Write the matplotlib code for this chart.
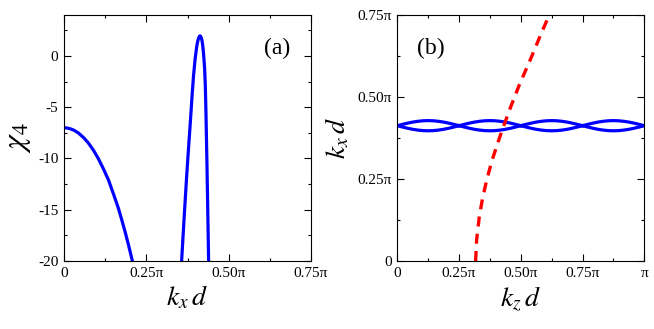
import matplotlib
matplotlib.use("Agg")
import matplotlib.pyplot as plt
from matplotlib.ticker import MultipleLocator

plt.rcParams['font.family'] = ['Liberation Serif', 'DejaVu Serif']
plt.rcParams['mathtext.fontset'] = 'stix'

# panel (a): chi_4 vs kx d (kx d in units of pi)
kx_a1 = [0.0, 0.01, 0.02, 0.03, 0.044, 0.06, 0.074, 0.09, 0.104, 0.12, 0.135,
         0.15, 0.165, 0.175, 0.185, 0.196, 0.2075]
chi_a1 = [-7.0, -7.03, -7.11, -7.24, -7.52, -7.98, -8.49, -9.23, -10.0, -11.04, -12.1,
          -13.45, -14.85, -15.95, -17.1, -18.46, -20.0]
kx_a2 = [0.357, 0.365, 0.372, 0.378, 0.383, 0.388, 0.393, 0.398, 0.403, 0.406,
         0.409, 0.411, 0.413, 0.415, 0.417, 0.419, 0.421, 0.423, 0.425, 0.427,
         0.429, 0.431, 0.434, 0.436, 0.439]
chi_a2 = [-20.0, -15.6, -11.9, -9.0, -6.7, -4.25, -2.0, -0.3, 0.95, 1.45,
          1.78, 1.92, 1.97, 1.9, 1.75, 1.5, 1.05, 0.45, -0.35, -1.3,
          -2.9, -5.6, -10.6, -14.3, -20.0]

# panel (b): kx d vs kz d (units of pi)
lens_kz = [0.0, 0.0208, 0.0417, 0.0625, 0.0833, 0.1042, 0.125,
           0.1458, 0.1667, 0.1875, 0.2083, 0.2292, 0.25]
lens_up = [0.4125, 0.4165, 0.4203, 0.4235, 0.4259, 0.4275, 0.428,
           0.4275, 0.4259, 0.4235, 0.4203, 0.4165, 0.4125]
lens_lo = [0.4125, 0.4085, 0.4047, 0.4015, 0.3991, 0.3975, 0.397,
           0.3975, 0.3991, 0.4015, 0.4047, 0.4085, 0.4125]
lens_starts = [0.0, 0.25, 0.5, 0.75]
kz_red = [0.317, 0.321, 0.332, 0.345, 0.362, 0.382, 0.404, 0.423,
          0.454, 0.494, 0.538, 0.580, 0.615]
kx_red = [0.0, 0.064, 0.135, 0.191, 0.247, 0.303, 0.354, 0.396,
          0.460, 0.537, 0.613, 0.689, 0.75]

fig = plt.figure(figsize=(6.54, 3.29), dpi=100)
ax1 = fig.add_axes([0.0979, 0.2067, 0.3777, 0.7477])
ax2 = fig.add_axes([0.6075, 0.2067, 0.3777, 0.7477])

blue = '#0000ff'
ax1.plot(kx_a1, chi_a1, color=blue, lw=2.3)
ax1.plot(kx_a2, chi_a2, color=blue, lw=2.3)
ax1.set_xlim(0, 0.75)
ax1.set_ylim(-20, 4)
ax1.set_xticks([0, 0.25, 0.5, 0.75])
ax1.set_xticklabels(['0', '0.25π', '0.50π', '0.75π'])
ax1.set_yticks([-20, -15, -10, -5, 0])
ax1.set_yticklabels(['-20', '-15', '-10', '-5', '0'])
ax1.xaxis.set_minor_locator(MultipleLocator(0.125))
ax1.yaxis.set_minor_locator(MultipleLocator(2.5))
ax1.set_xlabel('$k_x\\,d$', fontsize=20, labelpad=3)
ax1.set_ylabel('$\\chi_4$', fontsize=23, labelpad=4)
ax1.text(0.862, 0.866, '(a)', transform=ax1.transAxes, fontsize=17,
         ha='center', va='center')

for s in lens_starts:
    ax2.plot([s + k for k in lens_kz], lens_up, color=blue, lw=2.3)
    ax2.plot([s + k for k in lens_kz], lens_lo, color=blue, lw=2.3)
ax2.plot(kz_red, kx_red, color='#ff0000', lw=2.4, dashes=(3.0, 2.2))
ax2.set_xlim(0, 1)
ax2.set_ylim(0, 0.75)
ax2.set_xticks([0, 0.25, 0.5, 0.75, 1])
ax2.set_xticklabels(['0', '0.25π', '0.50π', '0.75π', 'π'])
ax2.set_yticks([0, 0.25, 0.5, 0.75])
ax2.set_yticklabels(['0', '0.25π', '0.50π', '0.75π'])
ax2.xaxis.set_minor_locator(MultipleLocator(0.125))
ax2.yaxis.set_minor_locator(MultipleLocator(0.125))
ax2.set_xlabel('$k_z\\,d$', fontsize=20, labelpad=3)
ax2.set_ylabel('$k_x\\,d$', fontsize=20, labelpad=4)
ax2.text(0.135, 0.866, '(b)', transform=ax2.transAxes, fontsize=17,
         ha='center', va='center')

for ax in (ax1, ax2):
    ax.tick_params(which='both', direction='in', top=True, right=True,
                   labelsize=11, width=0.8)
    ax.tick_params(which='major', length=5, pad=4)
    ax.tick_params(which='minor', length=2.5)
    for sp in ax.spines.values():
        sp.set_linewidth(0.8)

fig.savefig('out.png', dpi=100)
